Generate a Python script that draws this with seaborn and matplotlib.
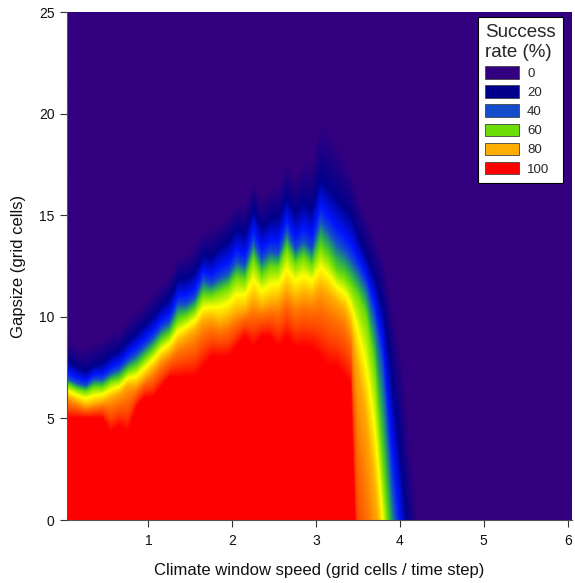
import numpy as np
import matplotlib
matplotlib.use("Agg")
import matplotlib.pyplot as plt
from matplotlib.colors import LinearSegmentedColormap
from matplotlib.patches import Patch
import seaborn as sns

# ---- data -----------------------------------------------------------------
# climate window speed (grid cells / time step) of each sampled column
speed = [0.05, 0.15, 0.25, 0.35, 0.45, 0.55, 0.65, 0.75, 0.85, 0.95,
         1.05, 1.15, 1.25, 1.35, 1.45, 1.55, 1.65, 1.75, 1.85, 1.95,
         2.05, 2.15, 2.25, 2.35, 2.45, 2.55, 2.65, 2.75, 2.85, 2.95,
         3.05, 3.15, 3.25, 3.35, 3.42, 3.50, 3.60, 3.70, 3.80, 3.90,
         4.00, 4.10, 4.20, 4.30, 6.05]
# gapsize (grid cells) at which the success rate falls to each level
gap_100 = [5.0, 5.0, 5.0, 5.0, 5.0, 4.3, 4.6, 4.3, 5.5, 6.0,
           6.0, 6.5, 7.0, 7.0, 7.0, 7.0, 7.5, 8.0, 8.0, 8.0,
           8.5, 9.0, 8.5, 9.0, 9.0, 8.5, 9.0, 8.5, 8.5, 8.5,
           8.0, 7.5, 7.5, 7.0, 6.5, -6.0, -10.0, -14.0, -18.0, -22.0,
           -26.0, -30.0, -34.0, -38.0, -38.0]
gap_80 = [6.0, 5.8, 5.6, 5.7, 5.8, 6.0, 6.2, 6.6, 6.6, 7.0,
          7.4, 7.9, 8.2, 8.7, 9.0, 9.3, 9.8, 9.9, 9.7, 9.9,
          10.2, 10.3, 10.8, 10.5, 10.7, 10.8, 11.3, 10.9, 11.1, 11.0,
          11.4, 11.1, 10.7, 10.3, 9.5, 7.5, 5.0, 1.5, -3.0, -7.0,
          -11.0, -15.0, -19.0, -23.0, -23.0]
gap_60 = [6.6, 6.4, 6.3, 6.5, 6.5, 6.8, 6.9, 7.3, 7.5, 7.9,
          8.3, 8.8, 9.1, 9.8, 10.0, 10.3, 11.0, 11.0, 11.2, 11.4,
          11.9, 11.8, 12.8, 12.0, 12.4, 12.4, 13.3, 12.6, 12.9, 12.5,
          13.4, 12.9, 12.2, 11.9, 11.5, 11.0, 10.0, 7.5, 2.5, -2.5,
          -6.5, -10.0, -14.0, -18.0, -18.0]
gap_40 = [6.9, 6.7, 6.6, 6.9, 6.9, 7.2, 7.4, 7.8, 8.1, 8.5,
          8.9, 9.4, 9.7, 10.6, 10.6, 10.9, 11.8, 11.6, 11.9, 12.1,
          12.7, 12.5, 13.7, 12.8, 13.2, 13.1, 14.2, 13.3, 13.7, 13.3,
          14.7, 14.2, 13.6, 13.2, 12.8, 12.3, 11.5, 10.0, 7.5, 2.0,
          -2.0, -6.0, -10.0, -14.0, -14.0]
gap_20 = [7.8, 7.5, 7.3, 7.6, 7.7, 8.1, 8.3, 8.8, 9.2, 9.6,
          10.0, 10.5, 10.9, 11.8, 11.9, 12.2, 13.0, 12.9, 13.4, 13.7,
          14.3, 14.1, 15.3, 14.4, 14.8, 14.9, 15.9, 15.1, 15.6, 15.3,
          16.8, 16.3, 15.8, 15.3, 15.0, 14.0, 13.0, 12.0, 10.5, 7.5,
          3.5, -1.0, -5.0, -9.0, -9.0]
gap_0 = [8.8, 8.5, 8.4, 8.7, 8.8, 9.2, 9.3, 9.8, 10.2, 10.6,
         11.1, 11.6, 12.0, 12.9, 13.0, 13.5, 14.3, 14.3, 14.6, 15.0,
         15.6, 15.5, 16.6, 15.8, 16.3, 16.5, 17.5, 16.9, 17.6, 17.5,
         19.5, 19.2, 18.5, 17.8, 17.0, 16.0, 15.0, 14.0, 13.0, 11.0,
         9.0, 5.0, 0.5, -1.0, -1.0]
rate_levels = [100, 80, 60, 40, 20, 0]

legend_values = [0, 20, 40, 60, 80, 100]
x_ticks = [1, 2, 3, 4, 5, 6]
y_ticks = [0, 5, 10, 15, 20, 25]

# ---- style -----------------------------------------------------------------
sns.set_theme(style="ticks")
plt.rcParams["font.family"] = ["Liberation Sans", "DejaVu Sans"]

cmap = LinearSegmentedColormap.from_list("success", [
    (0.00, (0.20, 0.00, 0.50)),
    (0.20, (0.00, 0.00, 0.55)),
    (0.33, (0.00, 0.08, 1.00)),
    (0.40, (0.08, 0.30, 0.80)),
    (0.50, (0.15, 0.65, 0.35)),
    (0.60, (0.42, 0.87, 0.03)),
    (0.70, (1.00, 1.00, 0.00)),
    (0.80, (1.00, 0.68, 0.00)),
    (0.86, (1.00, 0.45, 0.00)),
    (0.93, (1.00, 0.25, 0.00)),
    (1.00, (1.00, 0.00, 0.00)),
])

# ---- build field from the read contour heights ------------------------------
xf = np.linspace(0.03, 6.05, 603)
yf = np.linspace(0, 25, 501)
heights = np.array([gap_100, gap_80, gap_60, gap_40, gap_20, gap_0])
hf = np.array([np.interp(xf, speed, h) for h in heights])
Z = np.empty((len(yf), len(xf)))
for j in range(len(xf)):
    Z[:, j] = np.interp(yf, hf[:, j], rate_levels)

fig = plt.figure(figsize=(5.75, 5.83), dpi=100)
ax = fig.add_axes([0.1165, 0.108, 0.878, 0.8714])
ax.imshow(Z, origin="lower", extent=(xf[0], xf[-1], 0, 25), aspect="auto",
          cmap=cmap, vmin=0, vmax=100, interpolation="bilinear")
ax.set_xlim(0.03, 6.05)
ax.set_ylim(0, 25)
ax.set_xticks(x_ticks)
ax.set_yticks(y_ticks)
ax.tick_params(axis="both", direction="out", length=5, width=0.8,
               color="#333333", labelsize=10, pad=4, labelcolor="#111111")
ax.tick_params(axis="x", pad=5)
for side in ["top", "right"]:
    ax.spines[side].set_visible(False)
for side in ["left", "bottom"]:
    ax.spines[side].set_linewidth(0.8)
    ax.spines[side].set_color("#555555")
ax.set_xlabel("Climate window speed (grid cells / time step)", fontsize=12,
              color="#111111", labelpad=11)
ax.set_ylabel("Gapsize (grid cells)", fontsize=12, color="#111111",
              labelpad=9)

handles = [Patch(facecolor=cmap(v / 100), edgecolor="#444444", linewidth=0.6)
           for v in legend_values]
leg = ax.legend(handles, [str(v) for v in legend_values],
                title="Success\nrate (%)", loc="upper right",
                bbox_to_anchor=(0.982, 0.990), borderaxespad=0,
                fontsize=9.5, title_fontsize=13.5, frameon=True, fancybox=False,
                framealpha=1, edgecolor="black", facecolor="white",
                handlelength=2.6, handleheight=1.1, labelspacing=0.4,
                handletextpad=0.6, borderpad=0.55, alignment="left")
leg.get_frame().set_linewidth(0.8)

fig.savefig("out.png", dpi=100)
